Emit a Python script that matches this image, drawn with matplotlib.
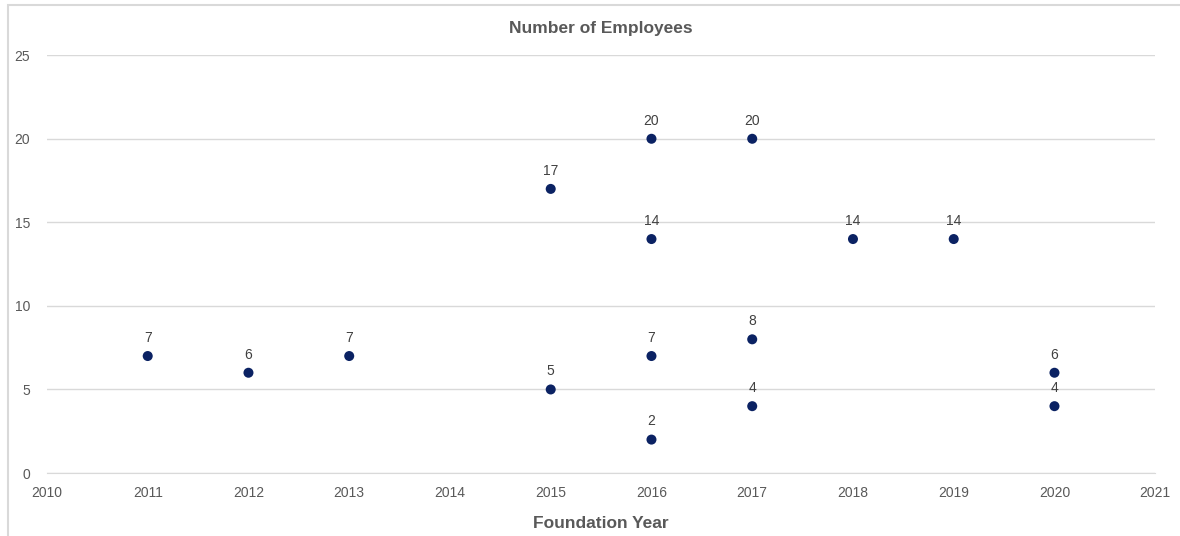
import matplotlib.pyplot as plt
from matplotlib.patches import Rectangle

# foundation year vs number of employees
years = [2011, 2012, 2013, 2015, 2015, 2016, 2016, 2016, 2016, 2017, 2017, 2017, 2018, 2019, 2020, 2020]
employees = [7, 6, 7, 17, 5, 20, 14, 7, 2, 20, 8, 4, 14, 14, 6, 4]
xticks = list(range(2010, 2022))
yticks = [0, 5, 10, 15, 20, 25]

plt.rcParams['font.family'] = ['Liberation Sans', 'DejaVu Sans']

fig = plt.figure(figsize=(11.8, 5.36), dpi=100)
ax = fig.add_axes([0.0398, 0.1175, 0.979 - 0.0398, 0.897 - 0.1175])

# outer chart border (left/top visible)
fig.patches.append(Rectangle((8 / 1180, -0.1), 1.2, 1.1 - 5 / 536,
                             transform=fig.transFigure, fill=False,
                             edgecolor='#d9d9d9', linewidth=1.5))

ax.scatter(years, employees, s=52, color='#0b2263', zorder=3,
           edgecolors='none')
for x, y in zip(years, employees):
    ax.annotate(str(y), (x, y), xytext=(0, 8), textcoords='offset points',
                ha='center', va='bottom', fontsize=10, color='#404040')

ax.set_xlim(2010, 2021)
ax.set_ylim(0, 25)
ax.set_xticks(xticks)
ax.set_yticks(yticks)
ax.grid(axis='y', color='#d9d9d9', linewidth=1)
ax.set_axisbelow(True)
for s in ['top', 'right', 'left']:
    ax.spines[s].set_visible(False)
ax.spines['bottom'].set_color('#d9d9d9')
ax.tick_params(axis='both', length=0, labelsize=10, colors='#595959')
ax.tick_params(axis='x', pad=9)
ax.tick_params(axis='y', pad=12)

ax.set_title('Number of Employees', fontsize=12.5, fontweight='bold',
             color='#595959', pad=16)
ax.set_xlabel('Foundation Year', fontsize=12.5, fontweight='bold',
              color='#595959', labelpad=12)

fig.savefig('out.png', dpi=100)
